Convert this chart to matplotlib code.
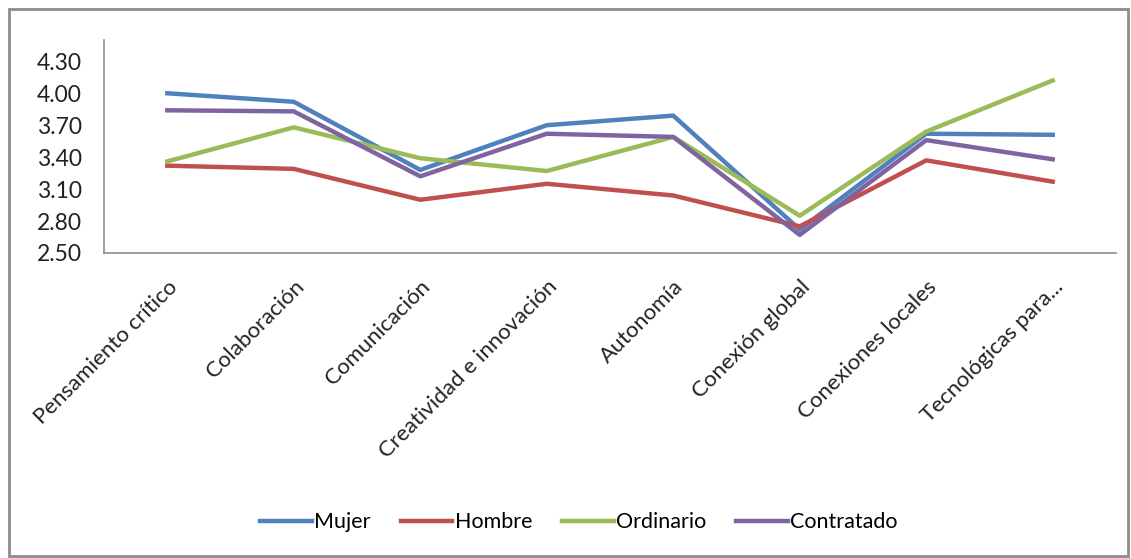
import matplotlib.pyplot as plt
from matplotlib.patches import Rectangle
import numpy as np

plt.rcParams['font.family'] = ['Lato', 'DejaVu Sans']

categorias = ['Pensamiento crítico', 'Colaboración', 'Comunicación',
              'Creatividad e innovación', 'Autonomía', 'Conexión global',
              'Conexiones locales', 'Tecnológicas para...']

mujer = [4.00, 3.92, 3.28, 3.70, 3.79, 2.72, 3.62, 3.61]
hombre = [3.32, 3.29, 3.00, 3.15, 3.04, 2.75, 3.37, 3.17]
ordinario = [3.36, 3.68, 3.39, 3.27, 3.59, 2.85, 3.64, 4.12]
contratado = [3.84, 3.83, 3.22, 3.62, 3.59, 2.67, 3.56, 3.38]

y_ticks = [2.50, 2.80, 3.10, 3.40, 3.70, 4.00, 4.30]

fig = plt.figure(figsize=(11.31, 5.58), dpi=100)
ax = fig.add_axes([0.092, 0.5466, 0.8947, 0.3817])

x = np.arange(len(categorias))
ax.plot(x, mujer, color='#4F81BD', lw=3.2, label='Mujer')
ax.plot(x, hombre, color='#C0504D', lw=3.2, label='Hombre')
ax.plot(x, ordinario, color='#9BBB59', lw=3.2, label='Ordinario')
ax.plot(x, contratado, color='#8064A2', lw=3.2, label='Contratado')

ax.set_xlim(-0.5, len(categorias) - 0.5)
ax.set_ylim(2.5, 4.5)
ax.set_yticks(y_ticks)
ax.set_yticklabels(['%.2f' % v for v in y_ticks], fontsize=16.5, color='#222222')
ax.set_xticks(x)
ax.set_xticklabels(categorias, rotation=45, ha='right', rotation_mode='anchor',
                   fontsize=16, color='#222222')
ax.tick_params(axis='both', length=0)
ax.tick_params(axis='x', pad=17)
ax.tick_params(axis='y', pad=16)

for s in ['top', 'right']:
    ax.spines[s].set_visible(False)
for s in ['left', 'bottom']:
    ax.spines[s].set_color('#8c8c8c')
    ax.spines[s].set_linewidth(1.2)

fig.legend(loc='center', bbox_to_anchor=(0.512, 0.064), ncol=4, frameon=False,
           fontsize=15.5, handlelength=2.4, handletextpad=0.1, columnspacing=1.4)

fig.patches.append(Rectangle((0.008, 0.004), 0.989, 0.98, transform=fig.transFigure,
                             fill=False, edgecolor='#8c8c8c', lw=2))

fig.savefig('out.png', dpi=100)
